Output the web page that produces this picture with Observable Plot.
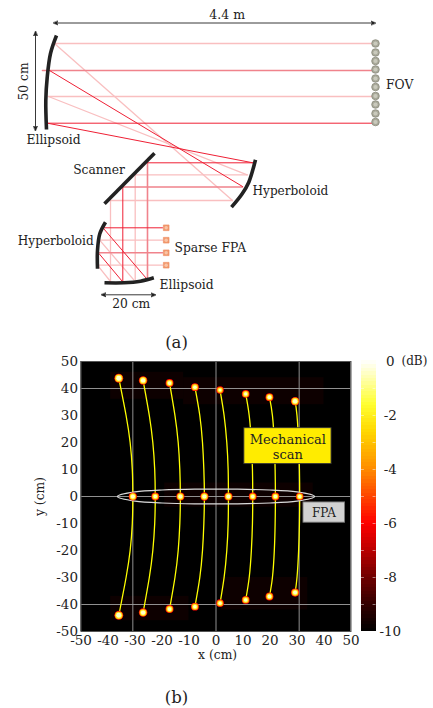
<!DOCTYPE html>
<html><head><meta charset="utf-8">
<script src="https://cdn.jsdelivr.net/npm/d3@7"></script>
<script src="https://cdn.jsdelivr.net/npm/@observablehq/plot@0.6"></script>
<style>
html,body{margin:0;padding:0;background:#fff}
#wrap{position:relative;width:433px;height:708px;overflow:hidden}
#wrap svg{position:absolute;left:0}
</style></head><body><div id="wrap"></div>
<script>
const font = "'DejaVu Serif'";
const light = "#f9bfc0", medium = "#f0838c", strong = "#ef2035", ink = "#222";

// ---- Panel (a): optical layout, in schematic units
const mirrorM1 = [[56,35],[50,53],[46.7,77],[45.3,100],[46,129]];
const mirrorHyperTop = [[255,159.3],[248.3,181.7],[241.7,193.3],[231,206.7]];
const mirrorScanner = [[154,152.7],[104,203.3]];
const mirrorHyperLow = [[105,221.7],[99.3,233.3],[97,250],[97,268.3]];
const mirrorEllipsLow = [[104,282.3],[123.3,282.3],[140,280.7],[153.3,277.3]];
const mirrors = [mirrorM1, mirrorHyperTop, mirrorScanner, mirrorHyperLow, mirrorEllipsLow];

const raysLight = [
  [[54,43],[372,43]], [[48,96],[372,96]],
  [[54,43],[232,200]], [[48,96],[246.7,174.3]],
  [[247,174.3],[134.7,174.3]], [[134.7,174.3],[134.7,279]],
  [[232,200],[110,200]], [[110,200],[110,281]],
  [[133.3,279.3],[100,240.7]], [[110,281],[97.7,265.7]],
  [[100,239.7],[162,239.7]], [[98,264.7],[162,264.7]]
];
const raysMedium = [
  [[42,70],[372,70]], [[242,186.5],[122.3,186.5]], [[147,162.3],[147,277.7]], [[99,252.3],[162,252.3]]
];
const raysStrong = [
  [[47,122.7],[372,122.7]], [[49,70],[242,186]], [[47,122.7],[252.3,162.3]],
  [[252,162.3],[147,162.3]], [[122.3,186.5],[122.3,281]],
  [[145.7,277.7],[103.3,228.3]], [[121.7,280.7],[98.7,253.3]], [[103,227.3],[162,227.3]]
];
const fovY = [43,52,60.5,69,78,86.5,95.5,104,113,121.5];
const fpaY = [227.3,239.7,252.3,264.7];
const dimensions = [[[55,22.5],[373,22.5]], [[35,33],[35,128]], [[103,294.3],[153,294.3]]];
const labelsStart = [
  {x:385.5,y:85,t:"FOV",s:12.3},
  {x:26,y:140,t:"Ellipsoid",s:12.3},
  {x:72.7,y:170,t:"Scanner",s:12.3},
  {x:252,y:190.7,t:"Hyperboloid",s:12.1},
  {x:17.3,y:240.7,t:"Hyperboloid",s:12.1},
  {x:174,y:247.7,t:"Sparse FPA",s:12.3},
  {x:159,y:284.7,t:"Ellipsoid",s:12.3}
];
const labelsMiddle = [
  {x:226.7,y:14,t:"4.4 m",s:12.5},
  {x:130.7,y:303.3,t:"20 cm",s:12.3},
  {x:176,y:342.7,t:"(a)",s:16.5}
];

// ---- Panel (b): scan traces, in cm
const topY = [43.8,43,42,40.5,39.4,38,36.8,35.3];
const botY = [-44,-43,-41.7,-40.8,-39.5,-38.3,-37,-35.6];
const levelY = [30,20,10,0,-10,-20,-30];
const traceEndX = [-36,-27,-17.2,-7.8,1.5,11,19.8,29.3];
const trace30X = [-33.3,-24.7,-15.2,-6,3,12.3,20.9,30];
const trace20X = [-31.8,-23.4,-14,-5,4,13.1,21.6,30.6];
const trace10X = [-31,-22.7,-13.4,-4.5,4.5,13.5,21.9,30.9];
const trace0X = [-30.8,-22.5,-13.2,-4.3,4.6,13.6,22,31];
const spotSizeTop = [1,.6,.1,0,-.3,-.1,.1,.6];
const spotSizeMid = [.3,0,.3,.4,.3,0,0,-.1];
const spotSizeBot = [1,.6,.2,0,-.2,0,.1,.3];
const gridX = [-30.8,0,30.8];
const gridY = [40,0,-40];
const fpaEllipse = [[-36.5,0],[-30,1.7],[-20,2.4],[-8,2.7],[8,2.7],[20,2.4],[30,1.7],[36.5,0],[30,-1.7],[20,-2.4],[8,-2.7],[-8,-2.7],[-20,-2.4],[-30,-1.7]];
const ticks = [-50,-40,-30,-20,-10,0,10,20,30,40,50];
const barTicks = [0,-2,-4,-6,-8,-10];
const barMinorTicks = [-1,-2,-3,-4,-5,-6,-7,-8,-9];
const colorStops = [-10,-9,-8,-7,-6,-4,-2.6,-1.6,0];
const colorValues = ["#000000","#330000","#700000","#bb0000","#ff0000","#ff8c00","#ffd800","#ffff30","#ffffff"];
const glow = [
  {x1:-39,x2:-12,y1:36,y2:46}, {x1:-12,x2:40,y1:34,y2:44},
  {x1:-39,x2:-10,y1:-46,y2:-37}, {x1:2,x2:34,y1:-42,y2:-30},
  {x1:-19,x2:36,y1:-4,y2:5}
];

const traces = traceEndX.flatMap((_, i) => {
  const xs = [trace30X[i],trace20X[i],trace10X[i],trace0X[i],trace10X[i],trace20X[i],trace30X[i]];
  return [
    {i,x:traceEndX[i],y:topY[i]},
    ...levelY.map((y,k)=>({i,x:xs[k],y})),
    {i,x:traceEndX[i],y:botY[i]}
  ];
});
const spots = [
  ...traceEndX.map((x,i)=>({x,y:topY[i],k:spotSizeTop[i]})),
  ...trace0X.map((x,i)=>({x,y:0,k:spotSizeMid[i]})),
  ...traceEndX.map((x,i)=>({x,y:botY[i],k:spotSizeBot[i]}))
];

const pathRows = (paths) => paths.flatMap((p,i)=>p.map(([x,y])=>({i,x,y})));
const rayMark = (paths,stroke,w) => Plot.line(pathRows(paths),{x:"x",y:"y",z:"i",stroke,strokeWidth:w});
const solidArrow = (color, context) => {
  const ns = "http://www.w3.org/2000/svg";
  const m = context.document.createElementNS(ns,"marker");
  m.setAttribute("viewBox","-5 -5 10 10");
  m.setAttribute("markerWidth",5.5);
  m.setAttribute("markerHeight",5.5);
  m.setAttribute("markerUnits","userSpaceOnUse");
  m.setAttribute("orient","auto-start-reverse");
  const p = context.document.createElementNS(ns,"path");
  p.setAttribute("d","M5,0L-5,-4L-2.5,0L-5,4Z");
  p.setAttribute("fill",color);
  m.appendChild(p);
  return m;
};

const panelA = Plot.plot({
  width:433,height:355,margin:0,
  style:{background:"transparent",fontFamily:font},
  x:{domain:[0,433],range:[0,433],axis:null},
  y:{domain:[0,355],range:[0,355],axis:null},
  marks:[
    rayMark(raysLight,light,1.3),
    rayMark(raysMedium,medium,1.6),
    rayMark(raysStrong,strong,1),
    Plot.line(pathRows(mirrors),{x:"x",y:"y",z:"i",stroke:ink,strokeWidth:3.6,curve:"catmull-rom",strokeLinecap:"butt"}),
    Plot.line(pathRows(dimensions),{x:"x",y:"y",z:"i",stroke:ink,strokeWidth:0.9,markerStart:solidArrow,markerEnd:solidArrow}),
    Plot.dot(fovY,{x:()=>375,y:d=>d,r:3.8,fill:"#a9a99a",stroke:"#8a8a7c",strokeWidth:0.8}),
    Plot.dot(fovY,{x:()=>375,y:d=>d,r:2.1,fill:"#c9c9bc"}),
    Plot.dot(fpaY,{x:()=>165.7,y:d=>d,r:3.2,symbol:"square",fill:"#f29a6e",stroke:"#ee8a5e",strokeWidth:0.6}),
    Plot.dot(fpaY,{x:()=>165.7,y:d=>d,r:1.7,fill:"#f9c4a6"}),
    Plot.text(labelsStart,{x:"x",y:"y",text:"t",textAnchor:"start",fontSize:"s",fill:"#222",lineAnchor:"middle"}),
    Plot.text(labelsMiddle,{x:"x",y:"y",text:"t",textAnchor:"middle",fontSize:"s",fill:"#222",lineAnchor:"middle"}),
    Plot.text(["50 cm"],{x:()=>23.5,y:()=>81,text:d=>d,rotate:-90,fontSize:12.3,fill:"#222",lineAnchor:"middle"})
  ]
});

const panelB = Plot.plot({
  width:433,height:363,
  marginLeft:80.5,marginRight:82.5,marginTop:16,marginBottom:77,
  style:{background:"transparent",fontFamily:font,fontSize:"13px",color:"#222"},
  x:{domain:[-50,50],ticks,tickFormat:String,tickSize:0,tickPadding:4,label:null},
  y:{domain:[-50,50],ticks,tickFormat:String,tickSize:0,tickPadding:4,label:null},
  color:{type:"linear",domain:colorStops,range:colorValues,interpolate:"rgb"},
  marks:[
    Plot.rect([{}],{x1:()=>-50,x2:()=>50,y1:()=>-50,y2:()=>50,fill:()=>-10}),
    Plot.rect(glow,{x1:"x1",x2:"x2",y1:"y1",y2:"y2",fill:"#0d0000"}),
    Plot.ruleX(gridX,{stroke:"#a0a0a0",strokeWidth:0.9}),
    Plot.ruleY(gridY,{stroke:"#a0a0a0",strokeWidth:0.9}),
    Plot.line(traces,{x:"x",y:"y",z:"i",stroke:"#ffff00",strokeWidth:1.3,curve:"natural"}),
    Plot.line([...fpaEllipse.map(([x,y])=>({x,y}))],{x:"x",y:"y",stroke:"#dcdcdc",strokeWidth:1.2,curve:"cardinal-closed"}),
    Plot.dot(spots,{x:"x",y:"y",r:d=>3.5+d.k,fill:()=>-6}),
    Plot.dot(spots,{x:"x",y:"y",r:d=>2.5+d.k,fill:()=>-4}),
    Plot.dot(spots,{x:"x",y:"y",r:d=>1.6+d.k,fill:()=>-2}),
    Plot.dot(spots,{x:"x",y:"y",r:d=>0.7+d.k*.7,fill:()=>-0.4}),
    Plot.rect([{}],{x1:()=>10.5,x2:()=>42.8,y1:()=>12,y2:()=>25.3,fill:"#ffec00",stroke:"#333",strokeWidth:0.9}),
    Plot.text(["Mechanical\nscan"],{x:()=>26.6,y:()=>18.5,text:d=>d,fontSize:13,lineHeight:1.2,fill:"#222"}),
    Plot.rect([{}],{x1:()=>32.4,x2:()=>47.8,y1:()=>-9.7,y2:()=>-2.2,fill:"#d2d2d2",stroke:"#777",strokeWidth:0.9}),
    Plot.text(["FPA"],{x:()=>40,y:()=>-6,text:d=>d,fontSize:12,fill:"#222"}),
    Plot.frame({stroke:"#555",strokeWidth:1}),
    Plot.axisX({ticks,tickFormat:String,tickSize:0,tickPadding:4,label:null,fontSize:13.5}),
    Plot.axisY({ticks,tickFormat:String,tickSize:0,tickPadding:3,label:null,fontSize:13.5}),
    Plot.text(["x (cm)"],{x:()=>0.6,y:()=>-50,dy:24,text:d=>d,fontSize:12.3,fill:"#222",lineAnchor:"middle"}),
    Plot.text(["y (cm)"],{x:()=>-50,y:()=>0,dx:-40.5,text:d=>d,rotate:-90,fontSize:12.3,fill:"#222",lineAnchor:"middle"})
  ]
});
panelB.style.top = "345px";

const barEdges = d3.range(-10,0,0.125);
const colorbar = Plot.plot({
  width:433,height:363,
  marginLeft:361,marginRight:57.5,marginTop:16,marginBottom:77,
  style:{background:"transparent",fontFamily:font,fontSize:"13px",color:"#222"},
  x:{domain:[0,1],axis:null},
  y:{domain:[-10,0]},
  color:{type:"linear",domain:colorStops,range:colorValues,interpolate:"rgb"},
  marks:[
    Plot.rect(barEdges,{x1:()=>0,x2:()=>1,y1:d=>d,y2:d=>d+0.15,fill:d=>d+0.06,shapeRendering:"crispEdges"}),
    Plot.ruleY(barMinorTicks,{y:d=>d,x1:()=>0,x2:()=>0.2,stroke:"#fff",strokeOpacity:0.6,strokeWidth:0.8}),
    Plot.ruleY(barMinorTicks,{y:d=>d,x1:()=>0.8,x2:()=>1,stroke:"#fff",strokeOpacity:0.6,strokeWidth:0.8}),
    Plot.axisY({anchor:"right",ticks:barTicks,tickFormat:String,tickSize:0,tickPadding:14.3,textAnchor:"middle",label:null,fontSize:13.5}),
    Plot.text(["(dB)"],{x:()=>1,y:()=>0,dx:25.5,text:d=>d,textAnchor:"start",fontSize:12,fill:"#222"})
  ]
});
colorbar.style.top = "345px";

const captionB = Plot.plot({
  width:433,height:53,margin:0,
  style:{background:"transparent",fontFamily:font},
  x:{domain:[0,433],range:[0,433],axis:null},
  y:{domain:[0,53],range:[0,53],axis:null},
  marks:[Plot.text(["(b)"],{x:()=>176,y:()=>42.7,text:d=>d,fontSize:16.5,fill:"#222",lineAnchor:"middle"})]
});
captionB.style.top = "655px";

const wrap = document.getElementById("wrap");
panelA.style.top = "0px";
wrap.append(panelA,panelB,colorbar,captionB);
</script></body></html>
